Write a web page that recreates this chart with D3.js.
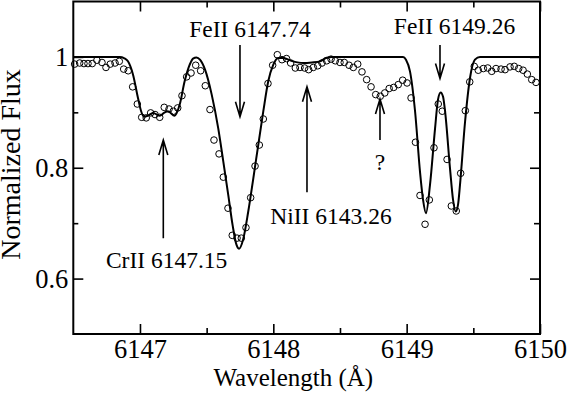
<!DOCTYPE html>
<html>
<head>
<meta charset="utf-8">
<script src="https://cdnjs.cloudflare.com/ajax/libs/d3/7.8.5/d3.min.js"></script>
<style>
  body { margin: 0; background: #fff; }
  svg { display: block; }
</style>
</head>
<body>
<script>
const margin = { top: 1.5, right: 28, bottom: 60, left: 73.3 };
const outerWidth = 568;
const outerHeight = 394;
const innerWidth = outerWidth - margin.left - margin.right;
const innerHeight = outerHeight - margin.top - margin.bottom;
const serif = 'Liberation Serif';

// observed spectrum (open circles)
const obsWave = [
  6146.510, 6146.548, 6146.580, 6146.610, 6146.642, 6146.677, 6146.715, 6146.745, 6146.777, 6146.813,
  6146.845, 6146.878, 6146.912, 6146.945, 6146.980, 6147.013, 6147.047, 6147.080, 6147.113, 6147.148,
  6147.182, 6147.218, 6147.250, 6147.283, 6147.315, 6147.350, 6147.383, 6147.418, 6147.455, 6147.490,
  6147.525, 6147.555, 6147.593, 6147.625, 6147.660, 6147.692, 6147.728, 6147.760, 6147.795, 6147.830,
  6147.863, 6147.895, 6147.925, 6147.960, 6147.995, 6148.030, 6148.065, 6148.099, 6148.130, 6148.165,
  6148.200, 6148.235, 6148.265, 6148.300, 6148.333, 6148.365, 6148.400, 6148.433, 6148.465, 6148.500,
  6148.532, 6148.568, 6148.600, 6148.633, 6148.665, 6148.700, 6148.733, 6148.768, 6148.802, 6148.836,
  6148.869, 6148.903, 6148.937, 6148.970, 6149.003, 6149.033, 6149.066, 6149.100, 6149.138, 6149.170,
  6149.205, 6149.237, 6149.267, 6149.303, 6149.335, 6149.372, 6149.405, 6149.440, 6149.473, 6149.507,
  6149.537, 6149.575, 6149.608, 6149.638, 6149.670, 6149.708, 6149.738, 6149.775, 6149.807, 6149.840,
  6149.873, 6149.905, 6149.938, 6149.970
];
const obsFlux = [
  0.987, 0.989, 0.988, 0.988, 0.988, 0.994, 0.990, 0.981, 0.987, 0.989,
  0.992, 0.978, 0.975, 0.946, 0.915, 0.891, 0.890, 0.899, 0.896, 0.891,
  0.909, 0.906, 0.902, 0.908, 0.930, 0.964, 0.971, 0.985, 0.975, 0.948,
  0.905, 0.850, 0.825, 0.783, 0.727, 0.678, 0.673, 0.673, 0.692, 0.746,
  0.803, 0.841, 0.888, 0.952, 0.985, 1.004, 0.995, 0.997, 0.989, 0.980,
  0.981, 0.980, 0.977, 0.981, 0.984, 0.989, 0.993, 0.996, 0.993, 0.990,
  0.990, 0.985, 0.981, 0.987, 0.973, 0.959, 0.946, 0.932, 0.929, 0.935,
  0.943, 0.945, 0.950, 0.958, 0.953, 0.926, 0.846, 0.750, 0.698, 0.742,
  0.836, 0.915, 0.902, 0.815, 0.731, 0.722, 0.790, 0.903, 0.955, 0.983,
  0.976, 0.979, 0.980, 0.974, 0.979, 0.978, 0.977, 0.982, 0.983, 0.979,
  0.976, 0.969, 0.959, 0.954
];

// synthetic spectrum (solid line)
const modelWave = [
  6146.500, 6146.850, 6146.880, 6146.910, 6146.948, 6146.985, 6147.010, 6147.030, 6147.060, 6147.098,
  6147.148, 6147.180, 6147.210, 6147.260, 6147.298, 6147.335, 6147.373, 6147.398, 6147.424, 6147.450,
  6147.488, 6147.538, 6147.587, 6147.625, 6147.662, 6147.695, 6147.720, 6147.743, 6147.775, 6147.812,
  6147.850, 6147.887, 6147.925, 6147.962, 6148.000, 6148.037, 6148.073, 6148.148, 6148.223, 6148.290,
  6148.350, 6148.395, 6148.440, 6148.973, 6148.995, 6149.025, 6149.063, 6149.100, 6149.123, 6149.145,
  6149.175, 6149.213, 6149.235, 6149.255, 6149.273, 6149.288, 6149.325, 6149.348, 6149.368, 6149.385,
  6149.400, 6149.438, 6149.475, 6149.512, 6149.550, 6150.000
];
const modelFlux = [
  1.000, 1.000, 0.998, 0.992, 0.968, 0.926, 0.901, 0.892, 0.894, 0.899,
  0.894, 0.899, 0.902, 0.894, 0.914, 0.956, 0.986, 0.997, 0.999, 0.995,
  0.977, 0.932, 0.871, 0.811, 0.751, 0.696, 0.664, 0.654, 0.672, 0.721,
  0.781, 0.841, 0.902, 0.956, 0.986, 0.998, 0.998, 0.992, 0.989, 0.990,
  0.992, 0.998, 1.000, 1.000, 0.995, 0.974, 0.902, 0.793, 0.742, 0.718,
  0.769, 0.871, 0.923, 0.936, 0.928, 0.902, 0.799, 0.742, 0.721, 0.733,
  0.769, 0.883, 0.962, 0.995, 1.000, 1.000
];

// ticks
const xMajor = [6147, 6148, 6149, 6150];
const xMinor = [6147.5, 6148.5, 6149.5];
const yMajor = [0.6, 0.8, 1];
const yMinor = [0.7, 0.9];

// line identifications: arrow from (wave, from) to (wave, to), label at (textWave, textFlux)
const lineLabels = ['FeII 6147.74', 'NiII 6143.26', 'CrII 6147.15', 'FeII 6149.26', '?'];
const arrowWave = [6147.75, 6148.2525, 6147.175, 6149.25, 6148.80];
const arrowFrom = [1.0215, 0.756, 0.673, 1.0215, 0.850];
const arrowTo = [0.892, 0.946, 0.850, 0.961, 0.924];
const textWave = [6147.825, 6148.4325, 6147.20, 6149.359, 6148.80];
const textFlux = [1.0365, 0.698, 0.6186, 1.0408, 0.796];

var svg = d3.select('body').append('svg')
    .attr('width', outerWidth)
    .attr('height', outerHeight)
  .append('g')
    .attr('transform', 'translate(' + margin.left + ',' + margin.top + ')');

// Scales
var xScale = d3.scaleLinear()
  .domain([6146.5, 6150])
  .range([0, innerWidth]);
var yScale = d3.scaleLinear()
  .domain([0.5, 1.1])
  .range([innerHeight, 0]);

// inward ticks on all four sides
function styleAxis(g) {
  g.attr('font-family', serif).attr('font-size', 26.5);
  g.select('.domain').remove();
  g.selectAll('line').attr('stroke', '#000').attr('stroke-width', 1.6);
  g.selectAll('text').attr('fill', '#000');
}

svg.append('g')
    .attr('transform', `translate(0,${innerHeight})`)
    .call(d3.axisBottom(xScale).tickValues(xMajor).tickSize(-10).tickPadding(5).tickFormat(d3.format('d')))
    .call(styleAxis);
svg.append('g')
    .attr('transform', `translate(0,${innerHeight})`)
    .call(d3.axisBottom(xScale).tickValues(xMinor).tickSize(-6).tickFormat(''))
    .call(styleAxis);
svg.append('g')
    .call(d3.axisTop(xScale).tickValues(xMajor).tickSize(-10).tickFormat(''))
    .call(styleAxis);
svg.append('g')
    .call(d3.axisTop(xScale).tickValues(xMinor).tickSize(-6).tickFormat(''))
    .call(styleAxis);

svg.append('g')
    .call(d3.axisLeft(yScale).tickValues(yMajor).tickSize(-10).tickPadding(5).tickFormat(d => d))
    .call(styleAxis)
  .selectAll('text')
    .attr('dy', '0.33em');
svg.append('g')
    .call(d3.axisLeft(yScale).tickValues(yMinor).tickSize(-5).tickFormat(''))
    .call(styleAxis);
svg.append('g')
    .attr('transform', `translate(${innerWidth},0)`)
    .call(d3.axisRight(yScale).tickValues(yMajor).tickSize(-10).tickFormat(''))
    .call(styleAxis);
svg.append('g')
    .attr('transform', `translate(${innerWidth},0)`)
    .call(d3.axisRight(yScale).tickValues(yMinor).tickSize(-6).tickFormat(''))
    .call(styleAxis);

// frame
svg.append('rect')
    .attr('width', innerWidth)
    .attr('height', innerHeight)
    .attr('fill', 'none')
    .attr('stroke', '#000')
    .attr('stroke-width', 2);

// axis labels
svg.append('text')
    .attr('x', xScale(6148.15))
    .attr('y', innerHeight + 52)
    .attr('text-anchor', 'middle')
    .attr('font-family', serif)
    .attr('font-size', 25)
    .text('Wavelength (Å)');
svg.append('text')
    .attr('transform', 'rotate(-90)')
    .attr('x', -163)
    .attr('y', -53)
    .attr('text-anchor', 'middle')
    .attr('font-family', serif)
    .attr('font-size', 28)
    .text('Normalized Flux');

// model curve
var model = modelWave.map((w, i) => [w, modelFlux[i]]);
svg.append('path')
    .datum(model)
    .attr('fill', 'none')
    .attr('stroke', '#000')
    .attr('stroke-width', 2)
    .attr('d', d3.line()
      .x(d => xScale(d[0]))
      .y(d => yScale(d[1]))
      .curve(d3.curveMonotoneX));

// observed points
var obs = obsWave.map((w, i) => [w, obsFlux[i]]);
svg.selectAll('.data-circle')
    .data(obs)
    .enter()
  .append('circle')
    .attr('class', 'data-circle')
    .attr('cx', d => xScale(d[0]))
    .attr('cy', d => yScale(d[1]))
    .attr('r', 3.3)
    .attr('fill', 'none')
    .attr('stroke', '#000')
    .attr('stroke-width', 1);

// arrows + labels
var ann = lineLabels.map((t, i) => ({
  text: t, wave: arrowWave[i], from: arrowFrom[i], to: arrowTo[i], tw: textWave[i], tf: textFlux[i]
}));
var annG = svg.selectAll('.ann')
    .data(ann)
    .enter()
  .append('g')
    .attr('class', 'ann');
annG.append('path')
    .attr('fill', 'none')
    .attr('stroke', '#000')
    .attr('stroke-width', 1.6)
    .attr('d', d => {
      var x = xScale(d.wave), y0 = yScale(d.from), y1 = yScale(d.to);
      var dir = y1 > y0 ? -1 : 1; // head arms go back toward the tail
      return `M${x},${y0}L${x},${y1}M${x - 4.5},${y1 + dir * 15}L${x},${y1}L${x + 4.5},${y1 + dir * 15}`;
    });
annG.append('text')
    .attr('x', d => xScale(d.tw))
    .attr('y', d => yScale(d.tf))
    .attr('text-anchor', 'middle')
    .attr('font-family', serif)
    .attr('font-size', 23.5)
    .text(d => d.text);
</script>
</body>
</html>
